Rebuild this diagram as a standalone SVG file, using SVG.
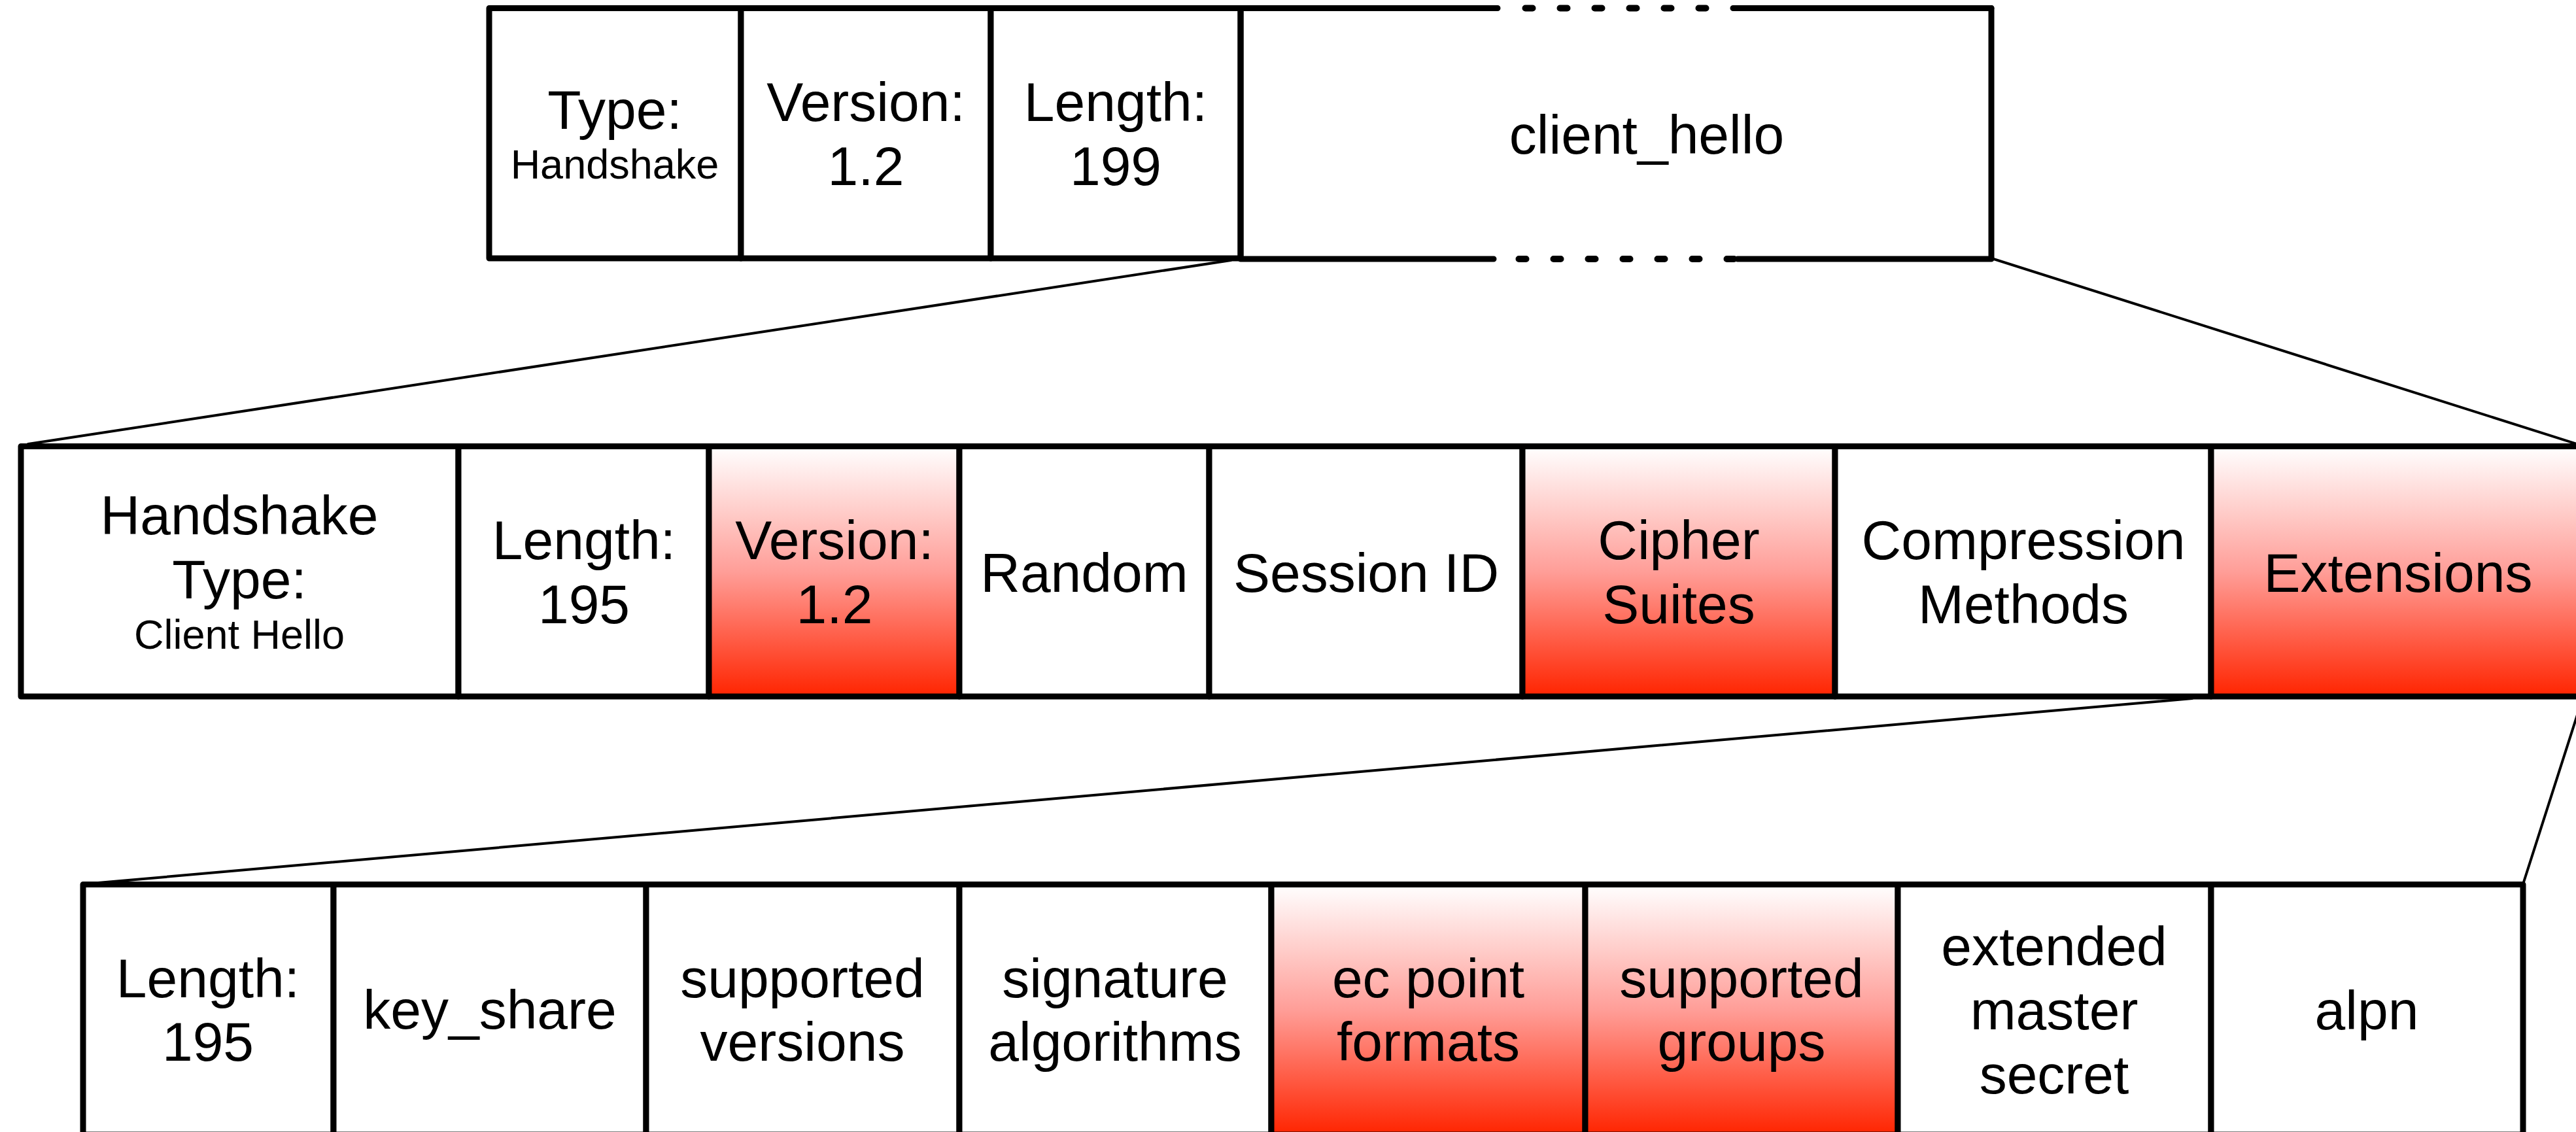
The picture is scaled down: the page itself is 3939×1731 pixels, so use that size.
<svg xmlns="http://www.w3.org/2000/svg" width="3939" height="1731" viewBox="0 0 3939 1731">
  <defs>
    <linearGradient id="redFade" x1="0" y1="0" x2="0" y2="1">
      <stop offset="0" stop-color="#ffffff"/>
      <stop offset="0.5" stop-color="#ff9e98"/>
      <stop offset="1" stop-color="#ff2400"/>
    </linearGradient>
    <style>
      .cell { fill: #ffffff; stroke: #000000; stroke-width: 9; stroke-linejoin: round; }
      .hot { fill: url(#redFade); stroke: #000000; stroke-width: 9; stroke-linejoin: round; }
      .edge { fill: none; stroke: #000000; stroke-width: 9; stroke-linecap: round; }
      .dots { fill: none; stroke: #000000; stroke-width: 10; stroke-linecap: round; stroke-dasharray: 11 42; }
      .link { fill: none; stroke: #000000; stroke-width: 4; stroke-linecap: round; }
      text { font-family: "Liberation Sans", Arial, Helvetica, sans-serif; fill: #000000; text-anchor: middle; }
      .big { font-size: 84px; }
      .small { font-size: 63px; }
    </style>
  </defs>

  <rect width="3939" height="1731" fill="#ffffff"/>

  <!-- zoom-in connectors between the rows -->
  <g id="connectors">
    <line class="link" x1="1882" y1="398" x2="43" y2="679"/>
    <line class="link" x1="3045" y1="395" x2="3950" y2="682"/>
    <line class="link" x1="3352" y1="1068" x2="150" y2="1350"/>
    <line class="link" x1="3950" y1="1065" x2="3858" y2="1352"/>
  </g>

  <!-- record layer -->
  <g id="rec-type">
    <rect class="cell" x="748" y="12.5" width="385" height="382.5"/>
    <text class="big" x="940" y="197">Type:</text>
    <text class="small" x="940" y="273">Handshake</text>
  </g>
  <g id="rec-version">
    <rect class="cell" x="1133" y="12.5" width="382" height="382.5"/>
    <text class="big" x="1324" y="185">Version:</text>
    <text class="big" x="1324" y="283">1.2</text>
  </g>
  <g id="rec-length">
    <rect class="cell" x="1515" y="12.5" width="382" height="382.5"/>
    <text class="big" x="1706" y="185">Length:</text>
    <text class="big" x="1706" y="283">199</text>
  </g>
  <g id="rec-body">
    <path class="edge" d="M1897 12.5 V395 M3045 12.5 V395"/>
    <path class="edge" d="M1897 12.5 H2290 M2650 12.5 H3045"/>
    <path class="dots" d="M2332.5 12.5 H2620"/>
    <path class="edge" d="M1897 396 H2284 M2657 396 H3045"/>
    <path class="dots" d="M2322.5 396 H2660"/>
    <text class="big" x="2518" y="235">client_hello</text>
  </g>

  <!-- handshake message -->
  <g id="hs-type">
    <rect class="cell" x="32" y="682.5" width="669" height="382.5"/>
    <text class="big" x="366" y="817">Handshake</text>
    <text class="big" x="366" y="915">Type:</text>
    <text class="small" x="366" y="992">Client Hello</text>
  </g>
  <g id="hs-length">
    <rect class="cell" x="701" y="682.5" width="383" height="382.5"/>
    <text class="big" x="893" y="855">Length:</text>
    <text class="big" x="893" y="953">195</text>
  </g>
  <g id="hs-version">
    <rect class="hot" x="1084" y="682.5" width="383" height="382.5"/>
    <text class="big" x="1276" y="855">Version:</text>
    <text class="big" x="1276" y="953">1.2</text>
  </g>
  <g id="hs-random">
    <rect class="cell" x="1467" y="682.5" width="382" height="382.5"/>
    <text class="big" x="1658" y="905">Random</text>
  </g>
  <g id="hs-session">
    <rect class="cell" x="1849" y="682.5" width="479" height="382.5"/>
    <text class="big" x="2089" y="905">Session ID</text>
  </g>
  <g id="hs-ciphers">
    <rect class="hot" x="2328" y="682.5" width="478" height="382.5"/>
    <text class="big" x="2567" y="855">Cipher</text>
    <text class="big" x="2567" y="953">Suites</text>
  </g>
  <g id="hs-compression">
    <rect class="cell" x="2806" y="682.5" width="575" height="382.5"/>
    <text class="big" x="3094" y="855">Compression</text>
    <text class="big" x="3094" y="953">Methods</text>
  </g>
  <g id="hs-extensions">
    <rect class="hot" x="3381" y="682.5" width="569" height="382.5"/>
    <text class="big" x="3667" y="905">Extensions</text>
  </g>

  <!-- extensions list -->
  <g id="ext-length">
    <rect class="cell" x="127" y="1352.5" width="383" height="382.5"/>
    <text class="big" x="318" y="1525">Length:</text>
    <text class="big" x="318" y="1622">195</text>
  </g>
  <g id="ext-key-share">
    <rect class="cell" x="510" y="1352.5" width="478" height="382.5"/>
    <text class="big" x="749" y="1573">key_share</text>
  </g>
  <g id="ext-supported-versions">
    <rect class="cell" x="988" y="1352.5" width="479" height="382.5"/>
    <text class="big" x="1227" y="1525">supported</text>
    <text class="big" x="1227" y="1622">versions</text>
  </g>
  <g id="ext-signature">
    <rect class="cell" x="1467" y="1352.5" width="477" height="382.5"/>
    <text class="big" x="1705" y="1525">signature</text>
    <text class="big" x="1705" y="1622">algorithms</text>
  </g>
  <g id="ext-ec-point">
    <rect class="hot" x="1944" y="1352.5" width="480" height="382.5"/>
    <text class="big" x="2184" y="1525">ec point</text>
    <text class="big" x="2184" y="1622">formats</text>
  </g>
  <g id="ext-groups">
    <rect class="hot" x="2424" y="1352.5" width="478" height="382.5"/>
    <text class="big" x="2663" y="1525">supported</text>
    <text class="big" x="2663" y="1622">groups</text>
  </g>
  <g id="ext-ems">
    <rect class="cell" x="2902" y="1352.5" width="479" height="382.5"/>
    <text class="big" x="3141" y="1476">extended</text>
    <text class="big" x="3141" y="1574">master</text>
    <text class="big" x="3141" y="1672">secret</text>
  </g>
  <g id="ext-alpn">
    <rect class="cell" x="3381" y="1352.5" width="477" height="382.5"/>
    <text class="big" x="3619" y="1574">alpn</text>
  </g>
</svg>
